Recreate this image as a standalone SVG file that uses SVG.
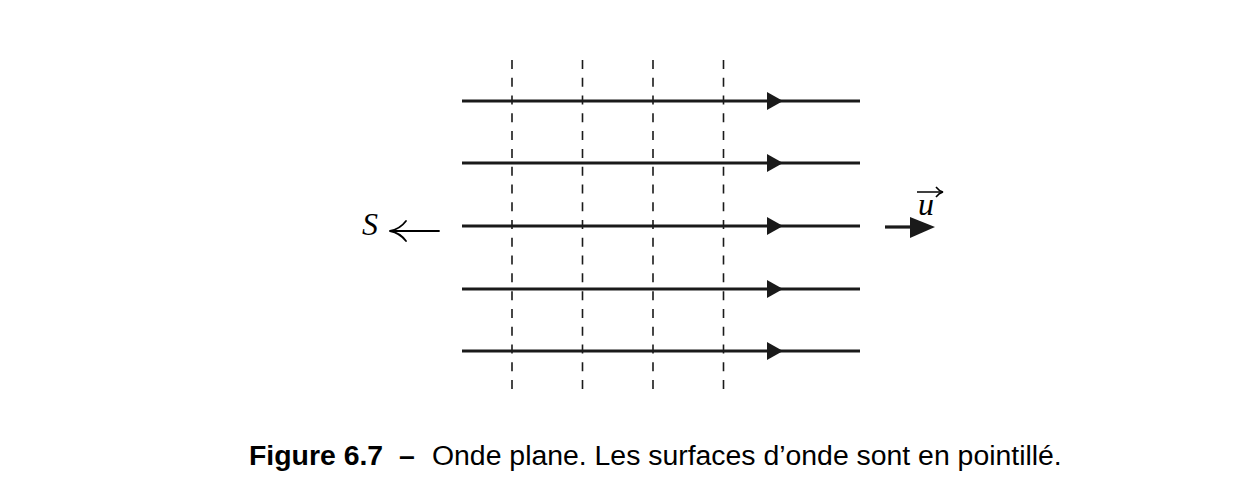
<svg xmlns="http://www.w3.org/2000/svg" width="1256" height="490" viewBox="0 0 1256 490">
<style>
.ray{stroke:#1a1a1a;stroke-width:3.2;fill:none}
.wave{stroke:#1a1a1a;stroke-width:1.6;stroke-dasharray:9 8.78;fill:none}
.head{fill:#1a1a1a}
.thin{stroke:#000;stroke-width:1.8;fill:none;stroke-linecap:round}
.math{font-family:"Liberation Serif",serif;font-style:italic;font-size:32px;fill:#000}
.cap{font-family:"Liberation Sans",Arial,sans-serif;font-size:28.4px;fill:#000}
</style>
<defs>
<polygon id="tri" points="-16,-9 0,0 -16,9" class="head"/>
</defs>
<rect width="1256" height="490" fill="#fff"/>
<g id="wave-surfaces">
<line class="wave" x1="512" y1="60" x2="512" y2="390"/>
<line class="wave" x1="582.5" y1="60" x2="582.5" y2="390"/>
<line class="wave" x1="653" y1="60" x2="653" y2="390"/>
<line class="wave" x1="723.5" y1="60" x2="723.5" y2="390"/>
</g>
<g id="connectors">
<line class="ray" x1="462" y1="101" x2="860" y2="101"/>
<use href="#tri" x="783" y="101"/>
<line class="ray" x1="462" y1="163" x2="860" y2="163"/>
<use href="#tri" x="783" y="163"/>
<line class="ray" x1="462" y1="226" x2="860" y2="226"/>
<use href="#tri" x="783" y="226"/>
<line class="ray" x1="462" y1="289" x2="860" y2="289"/>
<use href="#tri" x="783" y="289"/>
<line class="ray" x1="462" y1="351" x2="860" y2="351"/>
<use href="#tri" x="783" y="351"/>
</g>
<g id="S-label">
<text class="math" x="362" y="235">S</text>
<line class="thin" x1="390" y1="231" x2="439" y2="231"/>
<path class="thin" d="M406,221 Q400,229 390,231 Q400,233 406,241"/>
</g>
<g id="u-label">
<line class="ray" x1="885" y1="227" x2="914" y2="227"/>
<polygon class="head" points="910,217 935,227 910,238"/>
<text class="math" x="918" y="215">u</text>
<line stroke="#000" stroke-width="1.5" x1="917" y1="192" x2="942" y2="192"/>
<path stroke="#000" stroke-width="1.5" fill="none" d="M936,187 Q939,191 943,192 Q939,193 936,197"/>
</g>
<g id="caption">
<text class="cap" x="249" y="465"><tspan font-weight="bold">Figure 6.7</tspan><tspan x="399" font-weight="bold">–</tspan><tspan x="432">Onde plane. Les surfaces d’onde sont en pointillé.</tspan></text>
</g>
</svg>
